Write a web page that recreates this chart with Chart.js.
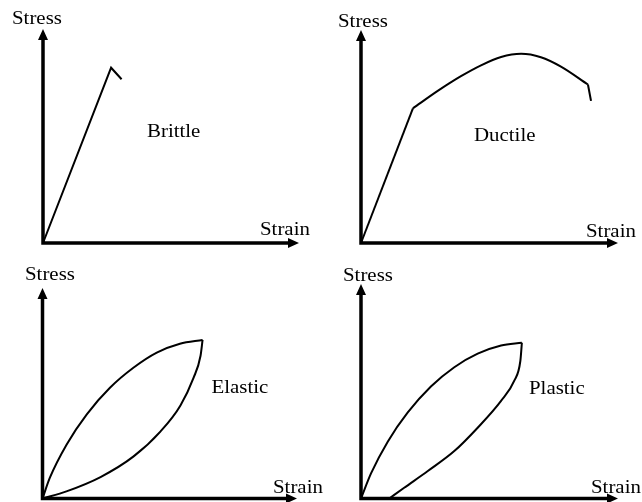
<!DOCTYPE html>
<html>
<head>
<meta charset="utf-8">
<script src="https://cdn.jsdelivr.net/npm/chart.js@4.4.0/dist/chart.umd.min.js"></script>
<style>
  html, body { margin: 0; padding: 0; background: #fff; }
  #lienzo { position: relative; width: 642px; height: 502px; }
  #lienzo canvas { position: absolute; left: 0; top: 0; }
</style>
</head>
<body>
<div id="lienzo">
  <canvas id="g-fragil" width="642" height="502"></canvas>
  <canvas id="g-ductil" width="642" height="502"></canvas>
  <canvas id="g-elastico" width="642" height="502"></canvas>
  <canvas id="g-plastico" width="642" height="502"></canvas>
</div>
<script>
/* Textos */
var ejeY = 'Stress';
var ejeX = 'Strain';
var nombres = ['Brittle', 'Ductile', 'Elastic', 'Plastic'];

/* Valores (en % de la longitud de cada eje) */
// Brittle
var fragilX = [0, 26.6, 30.7];
var fragilY = [0, 81.9, 76.5];

// Ductile: tramo elastico, curva, caida final
var ductilRectaX = [0, 20.2];
var ductilRectaY = [0, 63.2];
var ductilCurvaX = [20.2, 30.0, 38.9, 46.7, 54.5, 62.3, 70.0, 77.8, 88.3];
var ductilCurvaY = [63.2, 71.5, 78.3, 83.4, 87.3, 88.8, 87.2, 82.8, 74.4];
var ductilCaidaX = [88.3, 89.5];
var ductilCaidaY = [74.4, 66.7];

// Elastic: carga y descarga
var elasticoCargaX = [0, 2.9, 9.5, 17.4, 26.5, 35.7, 44.9, 54.0, 62.9];
var elasticoCargaY = [0, 9.9, 25.7, 40.0, 52.6, 62.1, 69.3, 73.5, 75.3];
var elasticoDescargaX = [62.9, 62.1, 59.3, 54.2, 46.4, 35.8, 22.8, 9.4, 0];
var elasticoDescargaY = [75.3, 67.8, 57.2, 44.2, 31.9, 20.0, 10.2, 3.4, 0];

// Plastic: carga y descarga (deformacion residual)
var plasticoCargaX = [0, 3.9, 10.4, 18.2, 27.2, 36.3, 45.4, 54.5, 62.6];
var plasticoCargaY = [0, 11.7, 26.5, 40.1, 52.2, 61.2, 67.5, 71.3, 72.6];
var plasticoDescargaX = [62.6, 62.0, 59.6, 54.5, 45.4, 36.3, 26.0, 16.8, 11.0];
var plasticoDescargaY = [72.6, 64.1, 54.8, 45.5, 33.0, 22.1, 12.8, 5.0, 0];

/* Ejes con flechas y textos */
var pluginEjes = {
    id: 'ejes',
    afterDatasetsDraw: function (chart, args, opts) {
        var ctx = chart.ctx;
        var x0 = chart.scales.x.getPixelForValue(0);
        var x1 = chart.scales.x.getPixelForValue(100);
        var y0 = chart.scales.y.getPixelForValue(0);
        var y1 = chart.scales.y.getPixelForValue(100);
        ctx.save();
        ctx.strokeStyle = '#000';
        ctx.fillStyle = '#000';
        ctx.lineWidth = 3.5;
        ctx.beginPath();
        ctx.moveTo(x0 - 1.75, y0);
        ctx.lineTo(x1 - 9, y0);
        ctx.moveTo(x0, y0 + 1.75);
        ctx.lineTo(x0, y1 + 9);
        ctx.stroke();
        // flechas
        ctx.beginPath();
        ctx.moveTo(x1, y0);
        ctx.lineTo(x1 - 11, y0 - 5);
        ctx.lineTo(x1 - 11, y0 + 5);
        ctx.closePath();
        ctx.moveTo(x0, y1);
        ctx.lineTo(x0 - 5, y1 + 11);
        ctx.lineTo(x0 + 5, y1 + 11);
        ctx.closePath();
        ctx.fill();
        // textos
        ctx.font = '18px "Liberation Serif", "Times New Roman", serif';
        ctx.textBaseline = 'alphabetic';
        opts.textos.forEach(function (t) {
            ctx.save();
            ctx.translate(t.x, t.y);
            ctx.scale(1.16, 1);
            ctx.fillText(t.texto, 0, 0);
            ctx.restore();
        });
        ctx.restore();
    }
};

function serie(xs, ys, curva) {
    return {
        data: xs.map(function (v, i) { return { x: v, y: ys[i] }; }),
        showLine: true,
        borderColor: '#000',
        borderWidth: 2,
        pointRadius: 0,
        cubicInterpolationMode: curva ? 'monotone' : 'default',
        tension: 0,
        fill: false,
        clip: false
    };
}

function crearGrafico(id, series, relleno, textos) {
    var marco = document.getElementById(id).getContext('2d');
    return new Chart(marco, {
        type: 'scatter',
        data: { datasets: series },
        options: {
            responsive: false,
            animation: false,
            events: [],
            layout: { padding: relleno },
            scales: {
                x: { type: 'linear', min: 0, max: 100, display: false },
                y: { type: 'linear', min: 0, max: 100, display: false }
            },
            plugins: {
                legend: { display: false },
                tooltip: { enabled: false },
                ejes: { textos: textos }
            }
        },
        plugins: [pluginEjes]
    });
}

crearGrafico('g-fragil',
    [serie(fragilX, fragilY, false)],
    { left: 43, top: 29, right: 343, bottom: 259 },
    [
        { texto: ejeY, x: 12, y: 24 },
        { texto: nombres[0], x: 147, y: 137 },
        { texto: ejeX, x: 260, y: 235 }
    ]);

crearGrafico('g-ductil',
    [
        serie(ductilRectaX, ductilRectaY, false),
        serie(ductilCurvaX, ductilCurvaY, true),
        serie(ductilCaidaX, ductilCaidaY, false)
    ],
    { left: 361, top: 30, right: 24, bottom: 259 },
    [
        { texto: ejeY, x: 338, y: 27 },
        { texto: nombres[1], x: 474, y: 141 },
        { texto: ejeX, x: 586, y: 237 }
    ]);

crearGrafico('g-elastico',
    [
        serie(elasticoCargaX, elasticoCargaY, true),
        serie(elasticoDescargaX, elasticoDescargaY, true)
    ],
    { left: 42.5, top: 288, right: 345, bottom: 3.5 },
    [
        { texto: ejeY, x: 25, y: 280 },
        { texto: nombres[2], x: 211.5, y: 392.5 },
        { texto: ejeX, x: 273, y: 492.5 }
    ]);

crearGrafico('g-plastico',
    [
        serie(plasticoCargaX, plasticoCargaY, true),
        serie(plasticoDescargaX, plasticoDescargaY, true)
    ],
    { left: 361, top: 284, right: 24, bottom: 3.5 },
    [
        { texto: ejeY, x: 343, y: 281 },
        { texto: nombres[3], x: 529, y: 393.5 },
        { texto: ejeX, x: 591, y: 492.5 }
    ]);
</script>
</body>
</html>
